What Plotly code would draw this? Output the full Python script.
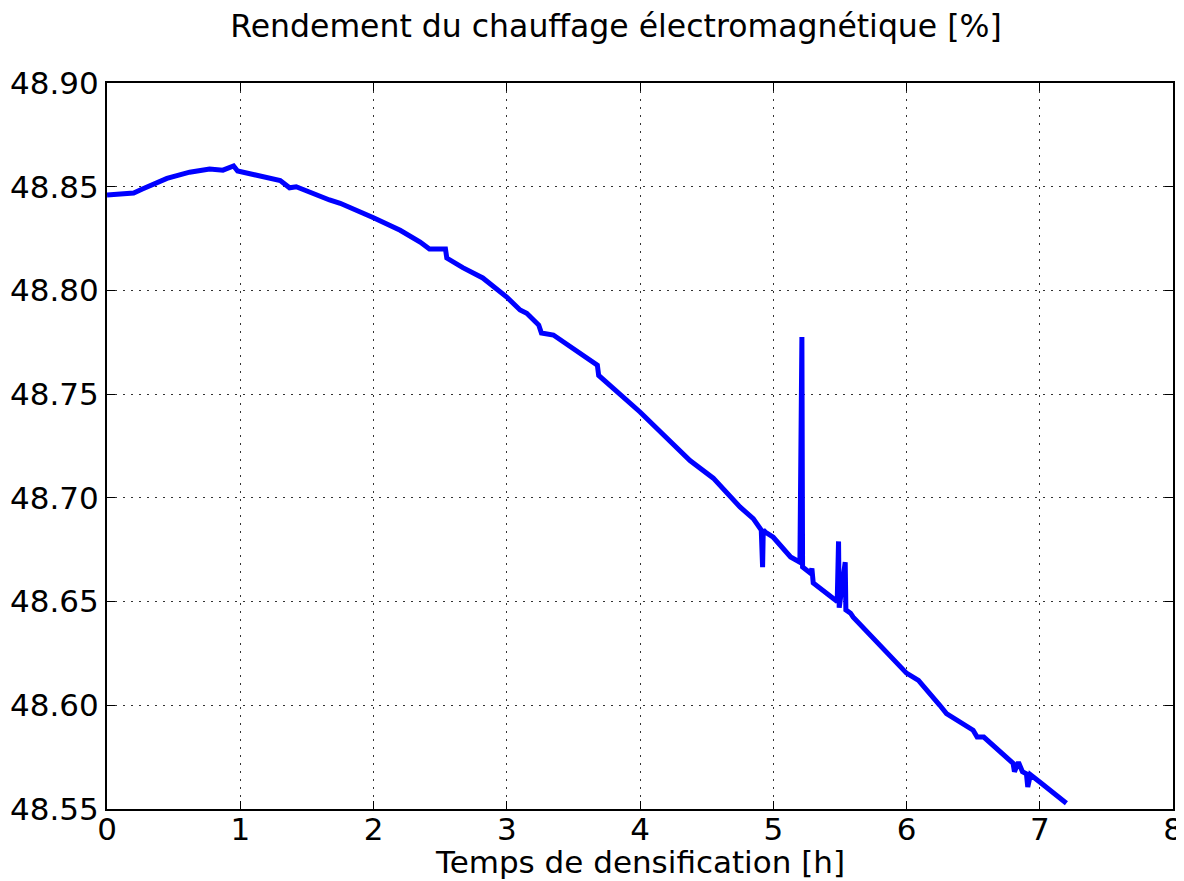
import plotly.graph_objects as go

# Temps de densification [h]
temps = [
  0.0, 0.2, 0.27, 0.45, 0.62, 0.77, 0.87, 0.95, 0.98, 1.15, 1.30, 1.37, 1.42,
  1.67, 1.75, 2.0, 2.2, 2.35, 2.42, 2.54, 2.55, 2.67, 2.82, 3.0, 3.10, 3.15,
  3.24, 3.26, 3.35, 3.68, 3.69, 4.0, 4.2, 4.375, 4.55, 4.75, 4.85, 4.91,
  4.92, 4.925, 4.94, 5.0, 5.13, 5.20, 5.215, 5.22, 5.28, 5.29, 5.30, 5.35,
  5.43, 5.48, 5.49, 5.495, 5.54, 5.545, 5.58, 5.6, 6.0, 6.09, 6.25, 6.30,
  6.5, 6.53, 6.58, 6.80, 6.81, 6.84, 6.87, 6.90, 6.91, 6.93, 7.0, 7.20
]

# Rendement [%]
rendement = [
  48.846, 48.847, 48.849, 48.854, 48.857, 48.8585, 48.858, 48.860, 48.8576,
  48.855, 48.853, 48.8495, 48.850, 48.8436, 48.842, 48.835, 48.829, 48.8233,
  48.820, 48.820, 48.8156, 48.811, 48.806, 48.7968, 48.7906, 48.789, 48.7833,
  48.7795, 48.7785, 48.764, 48.759, 48.7414, 48.729, 48.718, 48.7095,
  48.6956, 48.690, 48.6845, 48.6666, 48.6845, 48.6835, 48.681, 48.6715,
  48.669, 48.7775, 48.6667, 48.6637, 48.666, 48.659, 48.6565, 48.653, 48.650,
  48.679, 48.647, 48.669, 48.646, 48.6444, 48.6425, 48.6155, 48.612, 48.600,
  48.596, 48.588, 48.5847, 48.5847, 48.572, 48.568, 48.5726, 48.568, 48.567,
  48.5606, 48.5665, 48.563, 48.5528
]

xTicks = [0, 1, 2, 3, 4, 5, 6, 7, 8]
yTicks = [48.55, 48.60, 48.65, 48.70, 48.75, 48.80, 48.85, 48.90]

fig = go.Figure()
fig.add_trace(
  go.Scatter(
    x=temps,
    y=rendement,
    mode='lines',
    line=dict(color='#0000ff', width=5),
    showlegend=False
  )
)

axisStyle = dict(
  showline=True,
  linecolor='black',
  linewidth=2,
  mirror='ticks',
  ticks='inside',
  ticklen=8,
  tickwidth=1,
  tickcolor='black',
  showgrid=True,
  gridcolor='#333333',
  gridwidth=1,
  griddash='2px,6px',
  zeroline=False,
  automargin=False,
  tickfont=dict(size=31, color='black'),
)

# the page body has an 8px margin, so the figure is sized to fit inside it
fig.update_layout(
  width=1176,
  height=873,
  plot_bgcolor='white',
  paper_bgcolor='white',
  font=dict(family='DejaVu Sans', color='black'),
  margin=dict(l=99, r=11, t=75, b=72, autoexpand=False),
  title=dict(
    text='Rendement du chauffage électromagnétique [%]',
    x=608 / 1176,
    xanchor='center',
    y=1 - 18 / 873,
    yanchor='middle',
    font=dict(size=31.5),
    automargin=False
  ),
  xaxis=dict(
    axisStyle,
    range=[0, 8],
    tickvals=xTicks,
    ticktext=[str(t) for t in xTicks],
    ticklabelstandoff=-8,
  ),
  yaxis=dict(
    axisStyle,
    range=[48.55, 48.90],
    tickvals=yTicks,
    ticktext=['%.2f' % v for v in yTicks],
  ),
  annotations=[
    dict(
      text='Temps de densification [h]',
      xref='paper',
      yref='paper',
      x=0.5,
      y=-0.073,
      xanchor='center',
      yanchor='middle',
      showarrow=False,
      font=dict(size=31)
    )
  ]
)

fig.write_html("out.html")
